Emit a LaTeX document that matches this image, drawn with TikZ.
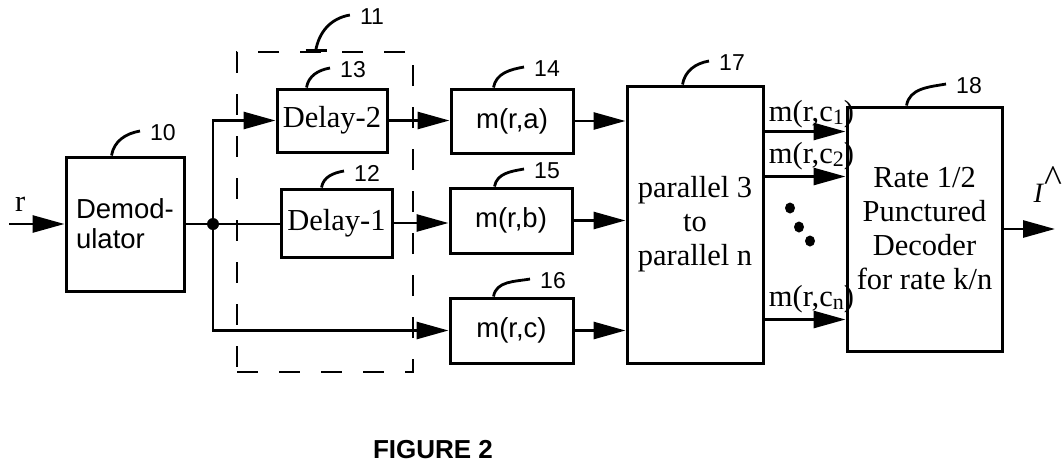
\documentclass[tikz,border=0pt]{standalone}
\usepackage{fontspec}
\setmainfont{Liberation Serif}
\setsansfont{Liberation Sans}
\usepackage{tikz}
\usetikzlibrary{arrows.meta,positioning,calc}
\newcommand{\blksf}{\sffamily\fontsize{27.5}{30}\selectfont}
\newcommand{\blkrm}{\rmfamily\fontsize{30.5}{34}\selectfont}
\newcommand{\numsf}{\sffamily\fontsize{23}{25}\selectfont}
\newcommand{\lsub}[1]{\raisebox{-3pt}{\fontsize{22}{22}\selectfont #1}}

\begin{document}
\begin{tikzpicture}[x=1pt, y=-1pt,
  blk/.style={rectangle, draw, line width=3pt, inner sep=0pt, align=center},
  grpbox/.style={rectangle, draw, line width=2.6pt, dash pattern=on 21pt off 21pt, inner sep=0pt},
  numlbl/.style={inner sep=0pt, font=\numsf},
  hook/.style={line width=2.8pt},
  wire/.style={line width=2.8pt},
  arr/.style={-{Triangle[length=32pt, width=17pt]}, line width=2.8pt}]
\useasboundingbox (0,0) rectangle (1062,469);

% blocks
\node[blk, font=\blksf, align=left, minimum width=118pt, minimum height=134pt] (dem) at (125,224) {Demod-\\ulator};
\node[blk, font=\blkrm, minimum width=110pt, minimum height=63pt] (d2) at (332,120.5) {Delay-2};
\node[blk, font=\blkrm, minimum width=111pt, minimum height=68pt] (d1) at (336.5,223) {Delay-1};
\node[blk, font=\blksf, minimum width=122pt, minimum height=64pt] (ma) at (512,121) {m(r,a)};
\node[blk, font=\blksf, minimum width=122pt, minimum height=65pt] (mb) at (511,220.5) {m(r,b)};
\node[blk, font=\blksf, minimum width=123pt, minimum height=65pt] (mc) at (511.5,330.5) {m(r,c)};
\node[blk, font=\blkrm, minimum width=136pt, minimum height=277pt] (par) at (695,224.5) {parallel 3\\to\\parallel n};
\node[blk, font=\blkrm, minimum width=155pt, minimum height=244pt] (dec) at (924.5,229) {Rate 1/2\\Punctured\\Decoder\\for rate k/n};
\node[grpbox, minimum width=176pt, minimum height=320pt] (grp) at (325,212) {};

% reference numbers
\foreach \b/\dx/\n/\lx/\ly in {dem/47/10/163/133, grp/80/11/372/17, d1/42/12/367/173,
    d2/31/13/353/70, ma/44/14/547/69, mb/46/15/547/171, mc/45/16/553/281,
    par/57/17/732/63, dec/61/18/969/86} {
  \node[numlbl] (n\n) at (\lx,\ly) {\n};
  \draw[hook] ([xshift=\dx pt]\b.north west) to[out=80, in=190] ([xshift=-10pt, yshift=2pt]n\n.west);
}
\draw[hook] ([xshift=70pt]grp.north west) -- ([xshift=91pt]grp.north west);

% signal path
\coordinate (in) at (9,224);
\coordinate (out) at (1055,229);
\node[circle, fill, inner sep=0pt, minimum size=12pt] (jn) at (213,224) {};
\draw[arr] (in) -- node[pos=0.2, above=11pt, inner sep=0pt, font=\blkrm] (rl) {r} (dem);
\draw[wire] (dem) -- (jn);
\draw[arr] (jn.center) |- (d2.west);
\draw[wire] (jn.center) -- (jn.center -| d1.west);
\draw[arr] (jn.center) |- (mc.west);
\draw[arr] (d2.east) -- (d2.east -| ma.west);
\draw[arr] (d1.east) -- (d1.east -| mb.west);
\foreach \m in {ma,mb,mc}
  \draw[arr] (\m.east) -- (\m.east -| par.west);

% outputs of the converter
\foreach \dy/\up/\lab in {47/10/1, 92/13/2, 235/13/n}
  \draw[arr] ([yshift=-\dy pt]par.north east) -- ([yshift=-\dy pt]par.north east -| dec.west)
    node[pos=0, anchor=base west, xshift=3pt, yshift=\up pt, inner sep=0pt, font=\blkrm] {m(r,c\lsub{\lab})};
\foreach \p in {(790,208),(799,227),(810,241)}
  \fill \p ellipse (5pt and 5.5pt);

\draw[arr] (dec) -- (out)
  node[pos=0.86, anchor=base, yshift=27pt, inner sep=0pt, font=\rmfamily\fontsize{28}{28}\selectfont] (ih) {\textit{I}\raisebox{11pt}{\fontsize{38}{38}\selectfont\textasciicircum}};

\node[font=\sffamily\bfseries\fontsize{26}{28}\selectfont] (fig) at (433,450) {FIGURE 2};
\end{tikzpicture}
\end{document}
